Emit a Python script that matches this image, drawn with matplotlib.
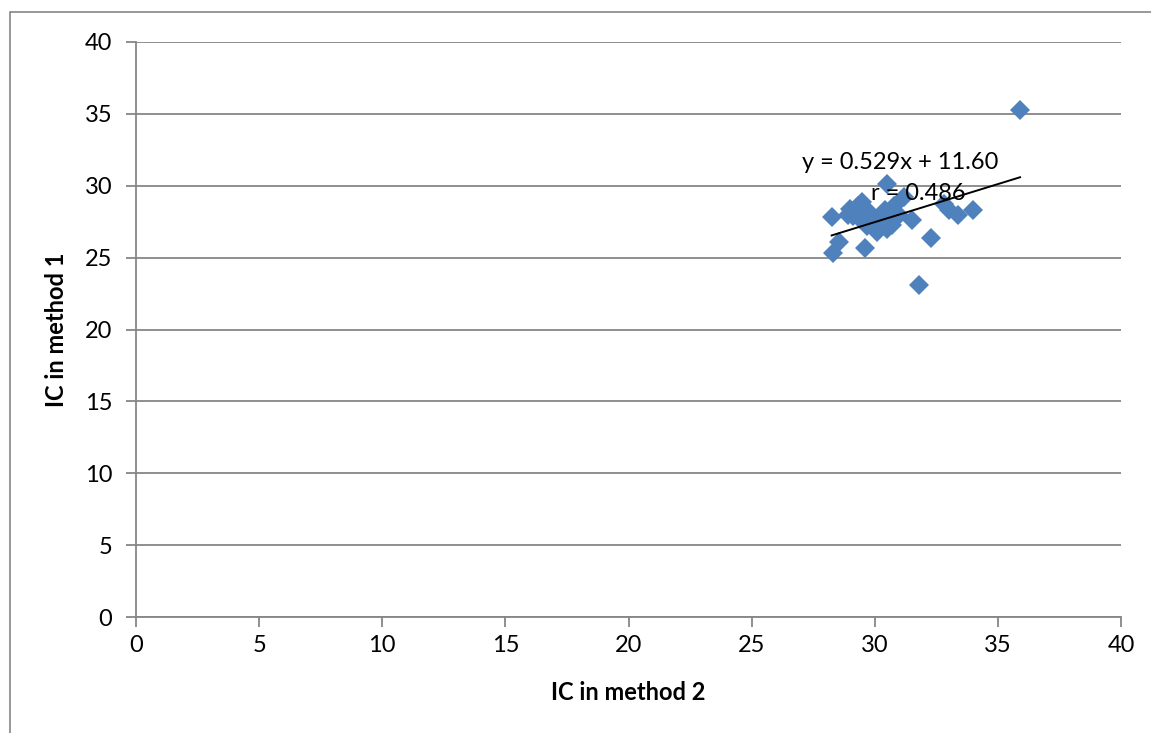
import matplotlib.pyplot as plt
from matplotlib.patches import Rectangle
import numpy as np


# ==========================================================
# IC METHOD COMPARISON SCATTER
# ==========================================================

# IC values
ic_method2 = [
    28.25, 28.3, 28.55, 28.9, 29.0, 29.1, 29.3, 29.5, 29.6, 29.4,
    29.8, 30.0, 30.1, 30.2, 30.4, 30.5, 30.5, 30.7, 30.8, 31.0,
    31.2, 31.5, 31.8, 32.3, 32.8, 33.0, 33.4, 34.0, 35.9, 29.7,
    30.3
]

ic_method1 = [
    27.8, 25.3, 26.1, 28.0, 28.4, 27.9, 28.6, 28.9, 25.7, 27.7,
    28.1, 27.4, 26.8, 27.9, 28.3, 30.1, 27.0, 27.3, 28.6, 28.0,
    29.2, 27.6, 23.1, 26.4, 28.7, 28.3, 28.0, 28.3, 35.3, 27.2,
    28.0
]

# Trendline as reported on the chart
slope = 0.529
intercept = 11.60
r_value = 0.486

x_ticks = [0, 5, 10, 15, 20, 25, 30, 35, 40]
y_ticks = [0, 5, 10, 15, 20, 25, 30, 35, 40]

plt.rcParams["font.family"] = ["Lato", "DejaVu Sans"]

grid_color = "#868686"
font_size = 17

fig = plt.figure(figsize=(11.51, 7.33), dpi=100)

# outer chart border (only left and top are visible)
fig.patches.append(
    Rectangle(
        (10 / 1151, -0.05),
        1.2,
        1.05 - 12 / 733,
        transform=fig.transFigure,
        fill=False,
        edgecolor=grid_color,
        linewidth=1.2
    )
)

ax = fig.add_axes([136 / 1151, 1 - 617 / 733, 985 / 1151, 575 / 733])

# ======================================================
# DATA
# ======================================================

ax.plot(
    ic_method2,
    ic_method1,
    linestyle="none",
    marker="D",
    markersize=10.5,
    color="#4F81BD",
    markeredgewidth=0,
    zorder=3
)

x_fit = np.array([min(ic_method2), max(ic_method2)])
ax.plot(
    x_fit,
    slope * x_fit + intercept,
    color="black",
    linewidth=1.4,
    zorder=4
)

ax.text(
    31.03, 31.65,
    f"y = {slope:.3f}x + {intercept:.2f}",
    ha="center", va="center", fontsize=font_size, zorder=5
)

ax.text(
    31.76, 29.43,
    f"r = {r_value:.3f}",
    ha="center", va="center", fontsize=font_size, zorder=5
)

# ======================================================
# AXES
# ======================================================

ax.set_xlim(0, 40)
ax.set_ylim(0, 40)
ax.set_xticks(x_ticks)
ax.set_yticks(y_ticks)

ax.yaxis.grid(True, color=grid_color, linewidth=1.3)
ax.set_axisbelow(True)

for side in ["top", "right"]:
    ax.spines[side].set_visible(False)
for side in ["left", "bottom"]:
    ax.spines[side].set_color(grid_color)
    ax.spines[side].set_linewidth(1.3)

ax.tick_params(
    axis="both",
    direction="out",
    length=7,
    width=1.3,
    color=grid_color,
    labelsize=font_size
)
ax.tick_params(axis="x", pad=6)
ax.tick_params(axis="y", pad=10)

ax.set_xlabel("IC in method 2", fontsize=font_size, fontweight="bold", labelpad=18)
ax.set_ylabel("IC in method 1", fontsize=font_size, fontweight="bold", labelpad=12)

fig.savefig("out.png", dpi=100)
